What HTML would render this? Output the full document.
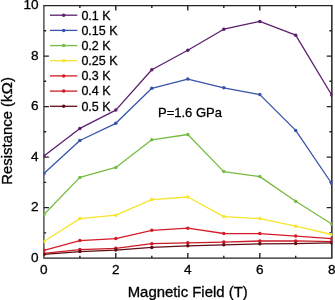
<!DOCTYPE html>
<html><head><meta charset="utf-8"><title>chart</title>
<style>
html,body{margin:0;padding:0;background:#fff;}
body{width:335px;height:300px;overflow:hidden;}
svg{display:block;will-change:transform;}
text{font-family:"Liberation Sans",sans-serif;fill:#000;stroke:#000;stroke-width:0.3px;}
</style></head><body>
<svg width="335" height="300" viewBox="0 0 335 300">
<rect width="335" height="300" fill="#fff"/>

<defs><clipPath id="c"><rect x="43.60" y="5.00" width="288.70" height="253.70"/></clipPath></defs>
<path d="M43.27 5.6H332.48M43.27 258.1H332.48" stroke="#222" stroke-width="1.25" fill="none"/>
<path d="M43.9 5.6V258.1" stroke="#303030" stroke-width="1.25" fill="none"/>
<path d="M331.85 5.6V258.1" stroke="#2a2a2a" stroke-width="1.55" fill="none"/>
<path d="M79.9 258.1v-2.3M79.9 5.6v2.3M115.8 258.1v-5.0M115.8 5.6v5.0M151.8 258.1v-2.3M151.8 5.6v2.3M187.8 258.1v-5.0M187.8 5.6v5.0M223.8 258.1v-2.3M223.8 5.6v2.3M259.8 258.1v-5.0M259.8 5.6v5.0M295.7 258.1v-2.3M295.7 5.6v2.3M43.9 232.9h2.3M331.7 232.9h-2.3M43.9 207.6h5.0M331.7 207.6h-5.0M43.9 182.4h2.3M331.7 182.4h-2.3M43.9 157.1h5.0M331.7 157.1h-5.0M43.9 131.8h2.3M331.7 131.8h-2.3M43.9 106.6h5.0M331.7 106.6h-5.0M43.9 81.3h2.3M331.7 81.3h-2.3M43.9 56.1h5.0M331.7 56.1h-5.0M43.9 30.8h2.3M331.7 30.8h-2.3" stroke="#222" stroke-width="1.4" fill="none"/>
<g clip-path="url(#c)" fill="none" stroke-width="1.3" stroke-linejoin="round">
<polyline points="43.9,156.0 79.9,128.4 115.8,110.1 151.8,69.8 187.8,50.2 223.8,29.2 259.8,21.4 295.7,35.2 331.7,95.0" stroke="#5b1f6e"/>
<circle cx="43.9" cy="156.0" r="1.75" fill="#5b1f6e" stroke="none"/>
<circle cx="79.9" cy="128.4" r="1.75" fill="#5b1f6e" stroke="none"/>
<circle cx="115.8" cy="110.1" r="1.75" fill="#5b1f6e" stroke="none"/>
<circle cx="151.8" cy="69.8" r="1.75" fill="#5b1f6e" stroke="none"/>
<circle cx="187.8" cy="50.2" r="1.75" fill="#5b1f6e" stroke="none"/>
<circle cx="223.8" cy="29.2" r="1.75" fill="#5b1f6e" stroke="none"/>
<circle cx="259.8" cy="21.4" r="1.75" fill="#5b1f6e" stroke="none"/>
<circle cx="295.7" cy="35.2" r="1.75" fill="#5b1f6e" stroke="none"/>
<circle cx="331.7" cy="95.0" r="1.75" fill="#5b1f6e" stroke="none"/>
<polyline points="43.9,173.5 79.9,140.5 115.8,123.3 151.8,88.3 187.8,79.1 223.8,87.8 259.8,94.6 295.7,130.4 331.7,183.5" stroke="#3853ab"/>
<circle cx="43.9" cy="173.5" r="1.75" fill="#3853ab" stroke="none"/>
<circle cx="79.9" cy="140.5" r="1.75" fill="#3853ab" stroke="none"/>
<circle cx="115.8" cy="123.3" r="1.75" fill="#3853ab" stroke="none"/>
<circle cx="151.8" cy="88.3" r="1.75" fill="#3853ab" stroke="none"/>
<circle cx="187.8" cy="79.1" r="1.75" fill="#3853ab" stroke="none"/>
<circle cx="223.8" cy="87.8" r="1.75" fill="#3853ab" stroke="none"/>
<circle cx="259.8" cy="94.6" r="1.75" fill="#3853ab" stroke="none"/>
<circle cx="295.7" cy="130.4" r="1.75" fill="#3853ab" stroke="none"/>
<circle cx="331.7" cy="183.5" r="1.75" fill="#3853ab" stroke="none"/>
<polyline points="43.9,214.5 79.9,177.4 115.8,167.4 151.8,139.8 187.8,134.5 223.8,171.6 259.8,176.6 295.7,201.3 331.7,224.0" stroke="#78bb42"/>
<circle cx="43.9" cy="214.5" r="1.75" fill="#78bb42" stroke="none"/>
<circle cx="79.9" cy="177.4" r="1.75" fill="#78bb42" stroke="none"/>
<circle cx="115.8" cy="167.4" r="1.75" fill="#78bb42" stroke="none"/>
<circle cx="151.8" cy="139.8" r="1.75" fill="#78bb42" stroke="none"/>
<circle cx="187.8" cy="134.5" r="1.75" fill="#78bb42" stroke="none"/>
<circle cx="223.8" cy="171.6" r="1.75" fill="#78bb42" stroke="none"/>
<circle cx="259.8" cy="176.6" r="1.75" fill="#78bb42" stroke="none"/>
<circle cx="295.7" cy="201.3" r="1.75" fill="#78bb42" stroke="none"/>
<circle cx="331.7" cy="224.0" r="1.75" fill="#78bb42" stroke="none"/>
<polyline points="43.9,241.5 79.9,218.6 115.8,215.2 151.8,199.6 187.8,197.0 223.8,216.6 259.8,218.6 295.7,226.2 331.7,234.5" stroke="#f6e52c"/>
<circle cx="43.9" cy="241.5" r="1.75" fill="#f6e52c" stroke="none"/>
<circle cx="79.9" cy="218.6" r="1.75" fill="#f6e52c" stroke="none"/>
<circle cx="115.8" cy="215.2" r="1.75" fill="#f6e52c" stroke="none"/>
<circle cx="151.8" cy="199.6" r="1.75" fill="#f6e52c" stroke="none"/>
<circle cx="187.8" cy="197.0" r="1.75" fill="#f6e52c" stroke="none"/>
<circle cx="223.8" cy="216.6" r="1.75" fill="#f6e52c" stroke="none"/>
<circle cx="259.8" cy="218.6" r="1.75" fill="#f6e52c" stroke="none"/>
<circle cx="295.7" cy="226.2" r="1.75" fill="#f6e52c" stroke="none"/>
<circle cx="331.7" cy="234.5" r="1.75" fill="#f6e52c" stroke="none"/>
<polyline points="43.9,250.3 79.9,240.6 115.8,238.6 151.8,230.3 187.8,228.2 223.8,233.5 259.8,233.6 295.7,236.1 331.7,238.7" stroke="#d51d29"/>
<circle cx="43.9" cy="250.3" r="1.75" fill="#d51d29" stroke="none"/>
<circle cx="79.9" cy="240.6" r="1.75" fill="#d51d29" stroke="none"/>
<circle cx="115.8" cy="238.6" r="1.75" fill="#d51d29" stroke="none"/>
<circle cx="151.8" cy="230.3" r="1.75" fill="#d51d29" stroke="none"/>
<circle cx="187.8" cy="228.2" r="1.75" fill="#d51d29" stroke="none"/>
<circle cx="223.8" cy="233.5" r="1.75" fill="#d51d29" stroke="none"/>
<circle cx="259.8" cy="233.6" r="1.75" fill="#d51d29" stroke="none"/>
<circle cx="295.7" cy="236.1" r="1.75" fill="#d51d29" stroke="none"/>
<circle cx="331.7" cy="238.7" r="1.75" fill="#d51d29" stroke="none"/>
<polyline points="43.9,253.4 79.9,249.6 115.8,248.3 151.8,243.7 187.8,242.8 223.8,242.1 259.8,241.0 295.7,240.9 331.7,241.6" stroke="#cb1a26"/>
<circle cx="43.9" cy="253.4" r="1.75" fill="#cb1a26" stroke="none"/>
<circle cx="79.9" cy="249.6" r="1.75" fill="#cb1a26" stroke="none"/>
<circle cx="115.8" cy="248.3" r="1.75" fill="#cb1a26" stroke="none"/>
<circle cx="151.8" cy="243.7" r="1.75" fill="#cb1a26" stroke="none"/>
<circle cx="187.8" cy="242.8" r="1.75" fill="#cb1a26" stroke="none"/>
<circle cx="223.8" cy="242.1" r="1.75" fill="#cb1a26" stroke="none"/>
<circle cx="259.8" cy="241.0" r="1.75" fill="#cb1a26" stroke="none"/>
<circle cx="295.7" cy="240.9" r="1.75" fill="#cb1a26" stroke="none"/>
<circle cx="331.7" cy="241.6" r="1.75" fill="#cb1a26" stroke="none"/>
<polyline points="43.9,254.4 79.9,251.6 115.8,250.1 151.8,247.4 187.8,245.8 223.8,244.8 259.8,243.8 295.7,243.6 331.7,242.9" stroke="#5e0f14"/>
<circle cx="43.9" cy="254.4" r="1.75" fill="#5e0f14" stroke="none"/>
<circle cx="79.9" cy="251.6" r="1.75" fill="#5e0f14" stroke="none"/>
<circle cx="115.8" cy="250.1" r="1.75" fill="#5e0f14" stroke="none"/>
<circle cx="151.8" cy="247.4" r="1.75" fill="#5e0f14" stroke="none"/>
<circle cx="187.8" cy="245.8" r="1.75" fill="#5e0f14" stroke="none"/>
<circle cx="223.8" cy="244.8" r="1.75" fill="#5e0f14" stroke="none"/>
<circle cx="259.8" cy="243.8" r="1.75" fill="#5e0f14" stroke="none"/>
<circle cx="295.7" cy="243.6" r="1.75" fill="#5e0f14" stroke="none"/>
<circle cx="331.7" cy="242.9" r="1.75" fill="#5e0f14" stroke="none"/>
</g>
<text x="43.9" y="274.2" font-size="13.6" text-anchor="middle">0</text>
<text x="115.8" y="274.2" font-size="13.6" text-anchor="middle">2</text>
<text x="187.8" y="274.2" font-size="13.6" text-anchor="middle">4</text>
<text x="259.8" y="274.2" font-size="13.6" text-anchor="middle">6</text>
<text x="331.7" y="274.2" font-size="13.6" text-anchor="middle">8</text>
<text x="38.6" y="261.7" font-size="13.6" text-anchor="end">0</text>
<text x="38.6" y="211.2" font-size="13.6" text-anchor="end">2</text>
<text x="38.6" y="160.7" font-size="13.6" text-anchor="end">4</text>
<text x="38.6" y="110.2" font-size="13.6" text-anchor="end">6</text>
<text x="38.6" y="59.7" font-size="13.6" text-anchor="end">8</text>
<text x="38.6" y="9.2" font-size="13.6" text-anchor="end">10</text>
<text x="187.7" y="297" font-size="14.9" text-anchor="middle">Magnetic Field (T)</text>
<text transform="translate(12.4,130.9) rotate(-90)" font-size="14.9" text-anchor="middle">Resistance (k<tspan textLength="12.5" lengthAdjust="spacingAndGlyphs">Ω</tspan>)</text>
<text x="158" y="116.6" font-size="13">P=1.6 GPa</text>
<line x1="50" x2="77.3" y1="15.2" y2="15.2" stroke="#5b1f6e" stroke-width="1.3"/>
<circle cx="63.7" cy="15.2" r="1.75" fill="#5b1f6e"/>
<text x="81.4" y="19.5" font-size="12.5">0.1 K</text>
<line x1="50" x2="77.3" y1="30.4" y2="30.4" stroke="#3853ab" stroke-width="1.3"/>
<circle cx="63.7" cy="30.4" r="1.75" fill="#3853ab"/>
<text x="81.4" y="34.7" font-size="12.5">0.15 K</text>
<line x1="50" x2="77.3" y1="45.6" y2="45.6" stroke="#78bb42" stroke-width="1.3"/>
<circle cx="63.7" cy="45.6" r="1.75" fill="#78bb42"/>
<text x="81.4" y="49.9" font-size="12.5">0.2 K</text>
<line x1="50" x2="77.3" y1="60.7" y2="60.7" stroke="#f6e52c" stroke-width="1.3"/>
<circle cx="63.7" cy="60.7" r="1.75" fill="#f6e52c"/>
<text x="81.4" y="65.0" font-size="12.5">0.25 K</text>
<line x1="50" x2="77.3" y1="75.9" y2="75.9" stroke="#d51d29" stroke-width="1.3"/>
<circle cx="63.7" cy="75.9" r="1.75" fill="#d51d29"/>
<text x="81.4" y="80.2" font-size="12.5">0.3 K</text>
<line x1="50" x2="77.3" y1="91.1" y2="91.1" stroke="#cb1a26" stroke-width="1.3"/>
<circle cx="63.7" cy="91.1" r="1.75" fill="#cb1a26"/>
<text x="81.4" y="95.4" font-size="12.5">0.4 K</text>
<line x1="50" x2="77.3" y1="106.3" y2="106.3" stroke="#5e0f14" stroke-width="1.3"/>
<circle cx="63.7" cy="106.3" r="1.75" fill="#5e0f14"/>
<text x="81.4" y="110.6" font-size="12.5">0.5 K</text>
</svg></body></html>
